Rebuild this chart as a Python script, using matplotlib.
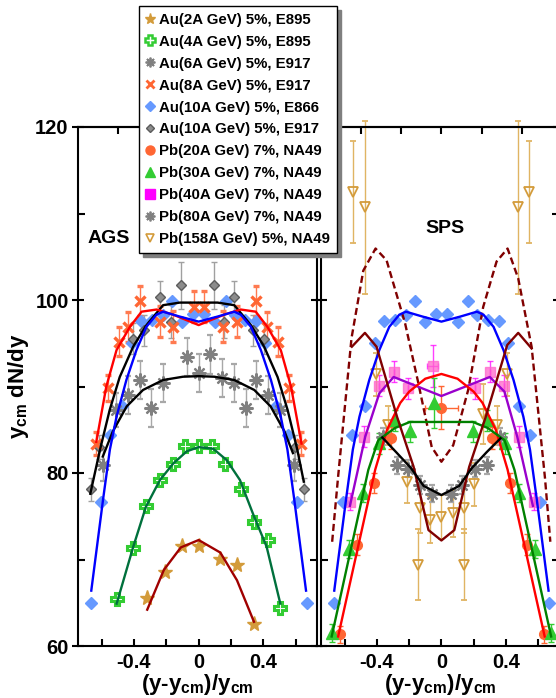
import matplotlib
matplotlib.use('Agg')
import matplotlib.pyplot as plt
from matplotlib.lines import Line2D
from matplotlib.ticker import MultipleLocator

plt.rcParams['font.family'] = ['Liberation Sans', 'DejaVu Sans']
plt.rcParams['font.weight'] = 'bold'
plt.rcParams['mathtext.fontset'] = 'custom'
plt.rcParams['mathtext.rm'] = 'Liberation Sans:bold'
plt.rcParams['mathtext.it'] = 'Liberation Sans:bold'
plt.rcParams['mathtext.bf'] = 'Liberation Sans:bold'

# ---- AGS data ----
au2_x = [-0.318, -0.21, -0.103, 0.0, 0.134, 0.237, 0.342]
au2_y = [65.6, 68.6, 71.6, 71.6, 70.1, 69.4, 62.5]
au2_line_x = [-0.318, -0.215, -0.11, 0.0, 0.134, 0.237, 0.342]
au2_line_y = [64.2, 68.8, 71.4, 72.25, 70.8, 67.6, 62.8]

au4_x = [-0.507, -0.406, -0.324, -0.241, -0.159, -0.087, 0.0, 0.082, 0.161, 0.264, 0.342, 0.428, 0.505]
au4_y = [65.4, 71.3, 76.2, 79.2, 81.0, 83.1, 83.1, 83.1, 81.0, 78.15, 74.3, 72.25, 64.4]
au4_line_x = [-0.507, -0.404, -0.326, -0.239, -0.157, -0.074, 0.0, 0.09, 0.173, 0.255, 0.342, 0.42, 0.505]
au4_line_y = [64.9, 71.5, 76.1, 79.2, 81.1, 82.5, 83.0, 82.8, 81.5, 79.2, 75.0, 71.5, 64.9]

au6_x = [-0.593, -0.509, -0.436, -0.365, -0.293, -0.22, -0.07, 0.0, 0.069, 0.147, 0.219, 0.291, 0.357, 0.429, 0.5, 0.59]
au6_y = [80.9, 87.3, 89.0, 90.75, 87.5, 90.4, 93.4, 91.6, 93.7, 90.95, 90.4, 87.5, 90.75, 89.0, 87.3, 80.9]
au6_err = [1.8, 2.0, 2.2, 2.2, 2.2, 2.2, 2.2, 2.2, 2.2, 2.2, 2.2, 2.2, 2.2, 2.2, 2.0, 1.8]
au6_line_x = [-0.593, -0.531, -0.445, -0.344, -0.22, -0.097, 0.0, 0.097, 0.22, 0.344, 0.445, 0.531, 0.583]
au6_line_y = [81.9, 84.8, 87.7, 89.6, 90.75, 91.13, 91.2, 91.13, 90.75, 89.6, 87.7, 84.8, 82.3]

au8_x = [-0.633, -0.558, -0.493, -0.437, -0.365, -0.237, -0.157, -0.03, 0.03, 0.152, 0.235, 0.357, 0.425, 0.492, 0.558, 0.636]
au8_y = [83.4, 89.8, 95.2, 96.9, 99.9, 97.5, 96.9, 99.2, 99.2, 96.9, 97.5, 99.9, 96.9, 95.2, 89.8, 83.4]
au8_err = [1.3, 1.5, 1.7, 1.7, 1.7, 1.8, 1.8, 1.8, 1.8, 1.8, 1.8, 1.7, 1.7, 1.7, 1.5, 1.3]
au8_line_x = [-0.633, -0.571, -0.508, -0.425, -0.353, -0.26, -0.157, 0.0, 0.157, 0.26, 0.353, 0.425, 0.508, 0.571, 0.636]
au8_line_y = [83.6, 90.0, 94.2, 96.9, 98.65, 98.9, 98.3, 97.1, 98.3, 98.9, 98.65, 96.9, 94.2, 90.0, 83.4]

e866_x = [-0.665, -0.607, -0.551, -0.476, -0.41, -0.356, -0.288, -0.222, -0.165, -0.1, -0.033,
          0.033, 0.1, 0.167, 0.222, 0.288, 0.356, 0.41, 0.478, 0.551, 0.61, 0.667]
e866_y = [65.0, 76.7, 84.4, 87.7, 95.0, 97.6, 97.7, 98.3, 99.9, 97.5, 98.4,
          98.4, 97.5, 99.9, 98.3, 97.7, 97.6, 95.0, 87.7, 84.4, 76.7, 65.0]
e866_line_x = [-0.664, -0.59, -0.549, -0.508, -0.447, -0.385, -0.323, -0.261, -0.22, -0.12, 0.0,
               0.12, 0.22, 0.261, 0.323, 0.385, 0.447, 0.508, 0.549, 0.59, 0.664]
e866_line_y = [66.4, 77.1, 82.7, 86.5, 90.75, 94.2, 96.9, 98.3, 98.65, 98.1, 97.5,
               98.1, 98.65, 98.3, 96.9, 94.2, 90.75, 86.5, 82.7, 77.1, 66.4]

e917_x = [-0.668, -0.614, -0.404, -0.336, -0.237, -0.169, -0.107, 0.094, 0.156, 0.217, 0.336, 0.404, 0.594, 0.651]
e917_y = [78.1, 83.0, 95.5, 96.5, 100.3, 97.5, 101.7, 101.7, 97.5, 100.3, 96.5, 95.5, 83.0, 78.1]
e917_err = [1.3, 1.4, 1.8, 1.8, 1.9, 1.9, 2.7, 2.7, 1.9, 1.9, 1.8, 1.8, 1.4, 1.3]
e917_line_x = [-0.67, -0.61, -0.55, -0.488, -0.405, -0.323, -0.22, -0.117, 0.0, 0.117, 0.22, 0.323, 0.405, 0.488, 0.55, 0.61, 0.65]
e917_line_y = [77.6, 82.7, 87.3, 91.1, 94.6, 97.1, 99.4, 99.7, 99.7, 99.7, 99.4, 97.1, 94.6, 91.1, 87.3, 82.7, 79.0]

# ---- SPS data ----
pb20_x = [-0.629, -0.526, -0.418, -0.315, 0.0, 0.315, 0.425, 0.53, 0.634]
pb20_y = [61.35, 71.7, 78.85, 84.05, 87.55, 84.05, 78.85, 71.7, 61.35]
pb20_err = [1.0, 1.2, 1.2, 1.3, 2.5, 1.3, 1.2, 1.2, 1.0]
pb20_xerr = [0, 0, 0, 0, 0.1, 0, 0, 0, 0]
pb20_line_x = [-0.64, -0.41, -0.337, -0.255, -0.2, -0.1, 0.0, 0.1, 0.2, 0.255, 0.337, 0.41, 0.64]
pb20_line_y = [61.1, 80.4, 85.0, 88.1, 89.4, 90.9, 91.45, 90.9, 89.4, 88.1, 85.0, 80.4, 61.1]

pb30_x = [-0.677, -0.573, -0.484, -0.387, -0.286, -0.194, -0.048, 0.194, 0.284, 0.392, 0.478, 0.582, 0.679]
pb30_y = [61.5, 71.2, 77.7, 83.45, 86.1, 84.8, 88.1, 84.8, 86.1, 83.45, 77.7, 71.2, 61.5]
pb30_err = [1.0, 1.0, 1.0, 1.2, 1.2, 1.2, 2.9, 1.2, 1.2, 1.2, 1.0, 1.0, 1.0]
pb30_line_x = [-0.68, -0.453, -0.391, -0.288, -0.195, 0.0, 0.195, 0.288, 0.391, 0.453, 0.68]
pb30_line_y = [61.1, 80.35, 83.8, 85.2, 85.9, 85.9, 85.9, 85.2, 83.8, 80.35, 61.1]

pb40_x = [-0.567, -0.478, -0.385, -0.296, -0.209, -0.054, 0.211, 0.3, 0.391, 0.48, 0.571]
pb40_y = [76.7, 84.2, 90.1, 91.7, 89.8, 92.4, 89.8, 91.7, 90.1, 84.2, 76.7]
pb40_err = [1.0, 1.2, 1.2, 1.2, 1.2, 2.4, 1.2, 1.2, 1.2, 1.2, 1.0]
pb40_xerr = [0, 0, 0, 0, 0, 0.036, 0, 0, 0, 0, 0]
pb40_line_x = [-0.567, -0.472, -0.385, -0.296, 0.0, 0.3, 0.391, 0.47, 0.567]
pb40_line_y = [76.2, 84.2, 89.2, 91.1, 88.9, 91.1, 89.4, 84.2, 76.2]

pb80_x = [-0.362, -0.278, -0.209, -0.13, -0.06, 0.06, 0.13, 0.209, 0.28, 0.362]
pb80_y = [84.2, 80.9, 80.5, 78.6, 77.6, 77.6, 78.6, 80.5, 80.9, 84.2]
pb80_err = [1.0, 1.0, 1.0, 1.0, 1.0, 1.0, 1.0, 1.0, 1.0, 1.0]
pb80_line_x = [-0.366, -0.28, -0.19, -0.11, 0.0, 0.11, 0.19, 0.28, 0.366]
pb80_line_y = [84.1, 82.4, 80.6, 78.5, 77.45, 78.5, 80.6, 82.4, 84.0]

pb158_x = [-0.547, -0.476, -0.404, -0.333, -0.213, -0.143, -0.132, -0.07, 0.0, 0.07, 0.137, 0.143, 0.205, 0.259, 0.346, 0.408, 0.476, 0.543]
pb158_y = [112.5, 110.7, 91.4, 85.5, 79.0, 69.4, 75.9, 74.6, 74.9, 75.4, 75.9, 69.4, 78.7, 86.8, 85.5, 91.4, 110.7, 112.5]
pb158_err = [5.9, 10.0, 2.5, 2.3, 2.5, 4.1, 2.8, 2.7, 2.5, 2.8, 2.8, 4.1, 2.5, 3.5, 2.3, 2.5, 10.0, 5.9]
pb158_line_x = [-0.555, -0.474, -0.402, -0.275, -0.172, -0.08, 0.0, 0.08, 0.172, 0.275, 0.408, 0.476, 0.559]
pb158_line_y = [94.6, 96.2, 94.6, 86.5, 80.7, 73.4, 72.2, 73.4, 80.7, 86.5, 94.8, 96.2, 94.4]
pb158_dash_x = [-0.677, -0.64, -0.557, -0.484, -0.408, -0.34, -0.225, -0.143, -0.06, 0.0,
                0.073, 0.166, 0.259, 0.342, 0.41, 0.476, 0.559, 0.642, 0.675]
pb158_dash_y = [72.05, 79.6, 95.6, 103.4, 105.95, 104.6, 97.3, 90.4, 83.0, 81.3,
                83.2, 89.6, 99.2, 104.45, 105.95, 102.5, 94.6, 79.4, 72.05]

legend_labels = ['Au(2A GeV) 5%, E895', 'Au(4A GeV) 5%, E895', 'Au(6A GeV) 5%, E917',
                 'Au(8A GeV) 5%, E917', 'Au(10A GeV) 5%, E866', 'Au(10A GeV) 5%, E917',
                 'Pb(20A GeV) 7%, NA49', 'Pb(30A GeV) 7%, NA49', 'Pb(40A GeV) 7%, NA49',
                 'Pb(80A GeV) 7%, NA49', 'Pb(158A GeV) 5%, NA49']

gold = '#d39b3a'
lgreen = '#33cc33'
gray = '#808080'
orange = '#ff6633'
lblue = '#6699ff'
star8 = (8, 2, 0)

fig = plt.figure(figsize=(5.56, 6.98), dpi=100)
ax1 = fig.add_axes([77.7 / 556, 52 / 698, 239 / 556, 519 / 698])
ax2 = fig.add_axes([320.7 / 556, 52 / 698, 238.5 / 556, 519 / 698])

# AGS panel
eb = dict(capsize=2.5, elinewidth=1.0, capthick=1.0, zorder=2, linestyle='none')
ax1.errorbar(e917_x, e917_y, yerr=e917_err, marker='D', ms=5, mfc='#8c8c8c', mec='#5c5c5c',
             ecolor='#a0a0a0', **eb)
ax1.errorbar(au6_x, au6_y, yerr=au6_err, marker=star8, ms=10, mew=1.6, color=gray,
             ecolor='#a8a8a8', **eb)
ax1.errorbar(au8_x, au8_y, yerr=au8_err, marker='x', ms=7, mew=2.4, color=orange,
             ecolor='#ff7a50', **eb)
ax1.plot(e866_x, e866_y, 'D', ms=6.5, color=lblue, zorder=2)
ax1.plot(au4_x, au4_y, 'P', ms=8.5, mfc='white', mec=lgreen, mew=2.2, zorder=2)
ax1.plot(au2_x, au2_y, '*', ms=11, color=gold, zorder=2)

ax1.plot(au2_line_x, au2_line_y, color='#a00000', lw=1.7, zorder=3)
ax1.plot(au4_line_x, au4_line_y, color='#00703c', lw=1.7, zorder=3)
ax1.plot(au6_line_x, au6_line_y, color='black', lw=1.7, zorder=3)
ax1.plot(e917_line_x, e917_line_y, color='black', lw=1.7, zorder=3)
ax1.plot(au8_line_x, au8_line_y, color='#ff0000', lw=1.7, zorder=3)
ax1.plot(e866_line_x, e866_line_y, color='#0000ff', lw=1.7, zorder=3)

# SPS panel
ax2.errorbar(pb158_x, pb158_y, yerr=pb158_err, marker='v', ms=7, mfc='none', mec=gold, mew=1.3,
             ecolor='#e0b463', clip_on=False, **eb)
ax2.errorbar(pb80_x, pb80_y, yerr=pb80_err, marker=star8, ms=10, mew=1.6, color=gray,
             ecolor='#a8a8a8', **eb)
ax2.plot(e866_x, e866_y, 'D', ms=6.5, color=lblue, zorder=2)
ax2.errorbar(pb40_x, pb40_y, yerr=pb40_err, xerr=pb40_xerr, marker='s', ms=7, mfc='#ff66cc',
             mec='#ff66cc', alpha=0.75, ecolor='#ff00ff', **eb)
ax2.errorbar(pb20_x, pb20_y, yerr=pb20_err, xerr=pb20_xerr, marker='o', ms=7, color=orange,
             ecolor=orange, **eb)
ax2.errorbar(pb30_x, pb30_y, yerr=pb30_err, marker='^', ms=8, color=lgreen, ecolor=lgreen, **eb)

ax2.plot(pb158_dash_x, pb158_dash_y, color='#800000', lw=1.7, ls=(0, (3, 1.6)), zorder=3)
ax2.plot(e866_line_x, e866_line_y, color='#0000ff', lw=1.7, zorder=3)
ax2.plot(pb40_line_x, pb40_line_y, color='#9900cc', lw=1.7, zorder=3)
ax2.plot(pb20_line_x, pb20_line_y, color='#ff0000', lw=1.7, zorder=3)
ax2.plot(pb30_line_x, pb30_line_y, color='#008000', lw=1.7, zorder=3)
ax2.plot(pb158_line_x, pb158_line_y, color='#800000', lw=1.7, zorder=3)
ax2.plot(pb80_line_x, pb80_line_y, color='black', lw=1.7, zorder=3)

for ax in (ax1, ax2):
    ax.set_xlim(-0.748, 0.73)
    ax.set_ylim(60, 120)
    for sp in ax.spines.values():
        sp.set_linewidth(1.5)
    ax.set_xticks([-0.6, -0.4, -0.2, 0.0, 0.2, 0.4, 0.6])
    ax.set_xticklabels(['', '-0.4', '', '0', '', '0.4', ''], fontweight='bold')
    ax.set_yticks([60, 80, 100, 120])
    ax.set_yticklabels(['60', '80', '100', '120'], fontweight='bold')
    ax.yaxis.set_minor_locator(MultipleLocator(10))
    ax.tick_params(axis='x', which='major', direction='in', length=5, width=1.5,
                   top=False, labelsize=14.5, pad=5)
    ax.tick_params(axis='y', which='major', direction='inout', length=9, width=1.5,
                   left=True, right=True, labelsize=14.5, pad=2)
    ax.tick_params(axis='y', which='minor', direction='in', length=5, width=1.5,
                   left=True, right=True)
    sec = ax.secondary_xaxis('top')
    sec.set_xticks([-0.5, -0.25, 0.0, 0.25, 0.5])
    sec.tick_params(direction='in', length=5, width=1.5, labeltop=False)
    sec.spines['top'].set_linewidth(1.5)
    ax.set_xlabel(r'(y-y$_{\mathrm{cm}}$)/y$_{\mathrm{cm}}$', fontsize=16, fontweight='bold',
                  labelpad=0)

ax2.tick_params(axis='y', labelleft=False)
ax1.set_ylabel(r'y$_{\mathrm{cm}}$ dN/dy', fontsize=16, fontweight='bold', labelpad=3)

ax1.text(0.131, 0.786, 'AGS', transform=ax1.transAxes, ha='center', va='center',
         fontsize=14, fontweight='bold')
ax2.text(0.521, 0.805, 'SPS', transform=ax2.transAxes, ha='center', va='center',
         fontsize=14, fontweight='bold')

handles = [
    Line2D([], [], ls='none', marker='*', ms=8, color=gold),
    Line2D([], [], ls='none', marker='P', ms=6.5, mfc='white', mec=lgreen, mew=1.8),
    Line2D([], [], ls='none', marker=star8, ms=7, mew=1.3, color=gray),
    Line2D([], [], ls='none', marker='x', ms=5.5, mew=2, color=orange),
    Line2D([], [], ls='none', marker='D', ms=5, color=lblue),
    Line2D([], [], ls='none', marker='D', ms=4.5, mfc='#8c8c8c', mec='#5c5c5c'),
    Line2D([], [], ls='none', marker='o', ms=6.5, color=orange),
    Line2D([], [], ls='none', marker='^', ms=6.5, color=lgreen),
    Line2D([], [], ls='none', marker='s', ms=6.5, color='#ff00ff'),
    Line2D([], [], ls='none', marker=star8, ms=7, mew=1.3, color=gray),
    Line2D([], [], ls='none', marker='v', ms=6, mfc='none', mec=gold, mew=1.2),
]
leg = fig.legend(handles, legend_labels, loc='upper left',
                 bbox_to_anchor=(139 / 556, 1 - 6 / 698), bbox_transform=fig.transFigure,
                 borderaxespad=0, fancybox=False, edgecolor='black', framealpha=1,
                 prop={'weight': 'bold', 'size': 10.8}, handlelength=0.6, handletextpad=0.3,
                 labelspacing=0.53, borderpad=0.45,
                 shadow={'ox': 3, 'oy': -3, 'facecolor': '#7f7f7f', 'edgecolor': '#7f7f7f', 'alpha': 1})
leg.get_frame().set_linewidth(1.0)
leg.set_zorder(10)

plt.savefig('out.png', dpi=100)
